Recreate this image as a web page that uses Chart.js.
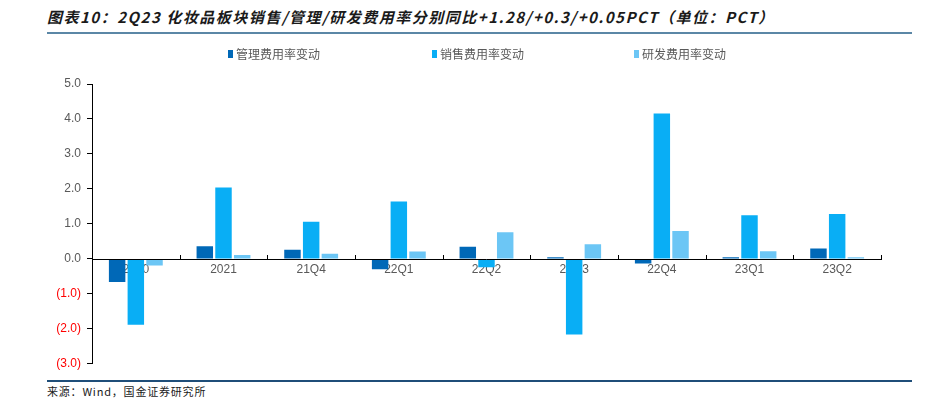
<!DOCTYPE html>
<html>
<head>
<meta charset="utf-8">
<script src="https://cdn.jsdelivr.net/npm/chart.js@4/dist/chart.umd.min.js"></script>
<style>
    html, body { margin: 0; padding: 0; background: #ffffff; }
    body { width: 925px; height: 399px; position: relative; overflow: hidden; font-family: "Noto Sans CJK SC", sans-serif; }
    #title { position: absolute; left: 47px; top: 6px; font-size: 15px; font-weight: bold; font-style: italic; color: #1a1a1a; white-space: nowrap; letter-spacing: 1.5px; }
    #topLine { position: absolute; left: 47px; top: 32px; width: 865px; height: 2px; background: #5b87a6; }
    #bottomLine { position: absolute; left: 47px; top: 380px; width: 865px; height: 2px; background: #1f4e79; }
    #source { position: absolute; left: 47px; top: 383px; font-size: 11px; color: #1a1a1a; white-space: nowrap; letter-spacing: 0.8px; }
    #chartBox { position: absolute; left: 0; top: 40px; width: 925px; height: 337px; }
</style>
</head>
<body>
<div id="title">图表10：2Q23 化妆品板块销售/管理/研发费用率分别同比+1.28/+0.3/+0.05PCT（单位：PCT）</div>
<div id="topLine"></div>
<div id="chartBox"><canvas id="expenseChart"></canvas></div>
<div id="bottomLine"></div>
<div id="source">来源：Wind，国金证券研究所</div>
<script>
// Cosmetics sector expense ratio changes (pct points).
const categories = ['2020', '2021', '21Q4', '22Q1', '22Q2', '22Q3', '22Q4', '23Q1', '23Q2'];
const seriesNames = ['管理费用率变动', '销售费用率变动', '研发费用率变动'];
const adminChange = [-0.66, 0.36, 0.26, -0.30, 0.35, 0.05, -0.13, 0.05, 0.30];
const salesChange = [-1.88, 2.04, 1.06, 1.64, -0.24, -2.16, 4.16, 1.25, 1.28];
const rdChange = [-0.19, 0.11, 0.15, 0.21, 0.76, 0.42, 0.80, 0.22, 0.05];
const seriesColors = ['#0068b7', '#09aef5', '#6cc6f5'];
const legendStartX = [228, 432, 634];

const chartCanvas = document.getElementById('expenseChart');

function formatTick(value) {
    if (value < 0) {
        return `(${Math.abs(value).toFixed(1)})`;
    }
    return value.toFixed(1);
}

// Small upward tick marks on the zero line between categories.
const zeroTicksPlugin = {
    id: 'zeroTicks',
    afterDatasetsDraw(chart) {
        const ctx = chart.ctx;
        const xScale = chart.scales.x;
        const yScale = chart.scales.y;
        const zeroY = Math.round(yScale.getPixelForValue(0));
        const step = (xScale.right - xScale.left) / categories.length;
        ctx.save();
        ctx.strokeStyle = '#000000';
        ctx.lineWidth = 1;
        ctx.beginPath();
        ctx.moveTo(xScale.left, zeroY + 0.5);
        ctx.lineTo(xScale.right, zeroY + 0.5);
        for (let i = 1; i <= categories.length; i++) {
            const x = Math.round(xScale.left + step * i) + 0.5;
            ctx.moveTo(x, zeroY + 1);
            ctx.lineTo(x, zeroY - 4);
        }
        ctx.stroke();
        ctx.restore();
    }
};

// Legend drawn from the datasets, with the wide spacing of the original.
const spacedLegendPlugin = {
    id: 'spacedLegend',
    afterDraw(chart) {
        const ctx = chart.ctx;
        ctx.save();
        ctx.font = '12px "Noto Sans CJK SC", sans-serif';
        ctx.textBaseline = 'middle';
        chart.data.datasets.forEach((dataset, i) => {
            const x = legendStartX[i];
            const y = 14;
            ctx.fillStyle = dataset.backgroundColor;
            ctx.fillRect(x, y - 4, 5, 8);
            ctx.fillStyle = '#595959';
            ctx.fillText(dataset.label, x + 8, y);
        });
        ctx.restore();
    }
};

new Chart(chartCanvas, {
    type: 'bar',
    data: {
        labels: categories,
        datasets: [
            { label: seriesNames[0], data: adminChange, backgroundColor: seriesColors[0] },
            { label: seriesNames[1], data: salesChange, backgroundColor: seriesColors[1] },
            { label: seriesNames[2], data: rdChange, backgroundColor: seriesColors[2] }
        ]
    },
    options: {
        responsive: true,
        maintainAspectRatio: false,
        animation: false,
        devicePixelRatio: 1,
        categoryPercentage: 0.64,
        barPercentage: 0.88,
        layout: {
            padding: { left: 0, right: 44, top: 44, bottom: 0 }
        },
        plugins: {
            legend: { display: false },
            tooltip: { enabled: false }
        },
        scales: {
            x: {
                position: { y: 0 },
                grid: { display: false, drawTicks: false },
                border: { display: false },
                ticks: {
                    color: '#595959',
                    padding: 4,
                    font: { family: 'Arial, "Liberation Sans", sans-serif', size: 12 }
                }
            },
            y: {
                min: -3,
                max: 5,
                afterFit(scale) {
                    scale.width = 92;
                },
                ticks: {
                    stepSize: 1,
                    padding: 6,
                    callback: (value) => formatTick(value),
                    color: (context) => (context.tick && context.tick.value < 0 ? '#ff0000' : '#595959'),
                    font: { family: 'Arial, "Liberation Sans", sans-serif', size: 12 }
                },
                grid: {
                    drawOnChartArea: false,
                    drawTicks: true,
                    tickLength: 5,
                    color: '#000000'
                },
                border: { display: true, color: '#000000', width: 1 }
            }
        }
    },
    plugins: [zeroTicksPlugin, spacedLegendPlugin]
});
</script>
</body>
</html>
